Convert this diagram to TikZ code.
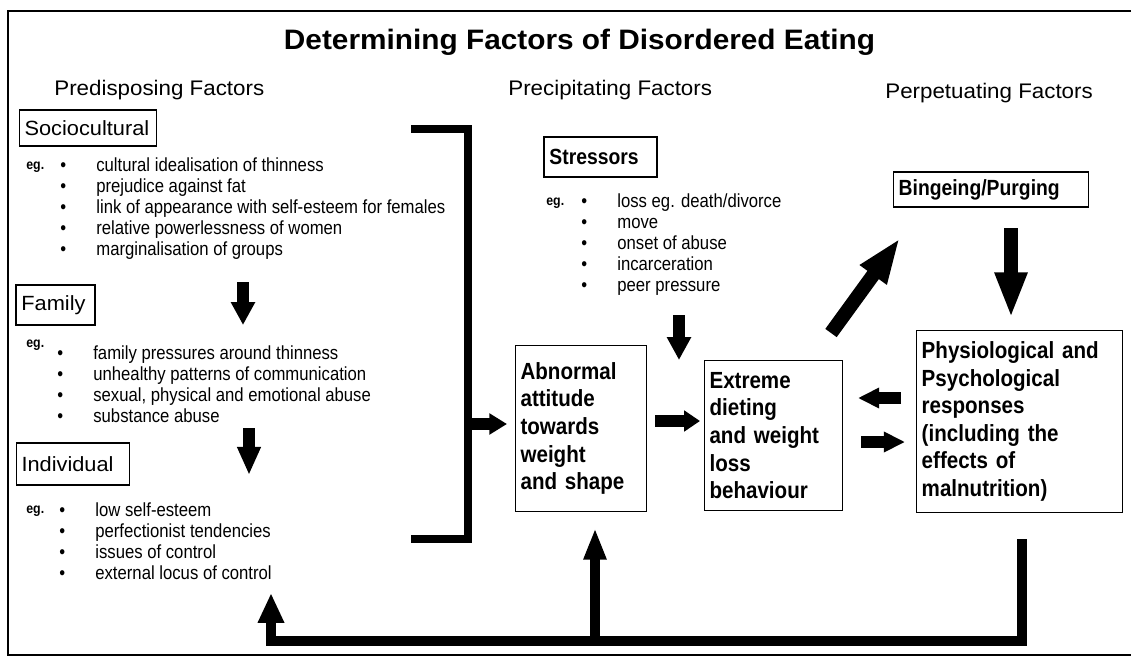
\documentclass[tikz,border=0pt]{standalone}
\usepackage{fontspec}
\setmainfont{Liberation Sans}[FakeStretch=1.06]
\newfontfamily\narrowfont{Liberation Sans}[FakeStretch=0.88]
\newcommand*\listItem[1]{%
	\makebox[20.5pt][l]{\textbullet}#1%
}
\usepackage{tikz}
\usetikzlibrary{positioning}
\usetikzlibrary{arrows.meta}

\begin{document}
\begin{tikzpicture}[
		headline/.style = { font = \bfseries\fontsize{16}{19}\selectfont, inner sep=0pt, anchor=base },
		factor/.style = { font = \fontsize{12}{14}\selectfont, inner sep=0pt, anchor=base west },
		factorBox/.style = { draw, line width=0.8pt, inner sep=3pt, align=left, font = \fontsize{11.7}{14}\selectfont },
		stressBox/.style = { factorBox, font = \narrowfont\bfseries\fontsize{12.5}{15}\selectfont },
		stage/.style = { draw, line width=0.8pt, inner sep=3pt, align=left, font = \narrowfont\bfseries\fontsize{13.3}{15.7}\selectfont },
		entry/.style = { font = \narrowfont\fontsize{10.8}{12}\selectfont, inner sep=0pt, anchor=base west },
		egLabel/.style = { font = \narrowfont\bfseries\fontsize{8}{9}\selectfont, inner sep=0pt, anchor=base west },
		fat/.style = { line width=6.8pt, -{Triangle[length=13pt, width=13pt]} },
		bigFat/.style = { line width=8pt, -{Triangle[length=26pt, width=17pt]} },
		loopLine/.style = { line width=6.2pt },
		]
		\def\oneUnit{0.02cm}
		
		\useasboundingbox (0,0) rectangle (1132*\oneUnit,-659*\oneUnit);
		\draw[line width=0.9pt] (1131*\oneUnit,-11*\oneUnit) -- (8*\oneUnit,-11*\oneUnit) -- (8*\oneUnit,-655*\oneUnit) -- (1131*\oneUnit,-655*\oneUnit);
		
		\node[headline] (TITLE) at (579.5*\oneUnit,-50*\oneUnit) {Determining Factors of Disordered Eating};
		\node[factor] (PREDISP) at (54*\oneUnit,-95*\oneUnit) {Predisposing Factors};
		\node[factor] (PRECIP) at (508*\oneUnit,-95*\oneUnit) {Precipitating Factors};
		\node[factor] (PERPET) at (885*\oneUnit,-98*\oneUnit) {Perpetuating Factors};
		
		\node[factorBox, text width=72.2pt, minimum height=20.4pt] (SOCIO) at (88*\oneUnit,-128*\oneUnit) {Sociocultural};
		\node[egLabel] (SOCIOeg) at (26*\oneUnit,-169*\oneUnit) {eg.};
		\node[entry] (SOCIO1) at (60*\oneUnit,-171*\oneUnit) {\listItem{cultural idealisation of thinness}};
		\node[entry] (SOCIO2) at (60*\oneUnit,-192*\oneUnit) {\listItem{prejudice against fat}};
		\node[entry] (SOCIO3) at (60*\oneUnit,-213*\oneUnit) {\listItem{link of appearance with self-esteem for females}};
		\node[entry] (SOCIO4) at (60*\oneUnit,-234*\oneUnit) {\listItem{relative powerlessness of women}};
		\node[entry] (SOCIO5) at (60*\oneUnit,-255*\oneUnit) {\listItem{marginalisation of groups}};
		
		\node[factorBox, text width=38.8pt, minimum height=22.7pt] (FAMILY) at (55.5*\oneUnit,-305*\oneUnit) {Family};
		\node[egLabel] (FAMILYeg) at (26*\oneUnit,-347*\oneUnit) {eg.};
		\node[entry] (FAMILY1) at (57*\oneUnit,-359*\oneUnit) {\listItem{family pressures around thinness}};
		\node[entry] (FAMILY2) at (57*\oneUnit,-380*\oneUnit) {\listItem{unhealthy patterns of communication}};
		\node[entry] (FAMILY3) at (57*\oneUnit,-401*\oneUnit) {\listItem{sexual, physical and emotional abuse}};
		\node[entry] (FAMILY4) at (57*\oneUnit,-422*\oneUnit) {\listItem{substance abuse}};
		
		\node[factorBox, text width=58.6pt, minimum height=23.8pt] (INDIV) at (73*\oneUnit,-464*\oneUnit) {Individual};
		\node[egLabel] (INDIVeg) at (26*\oneUnit,-513*\oneUnit) {eg.};
		\node[entry] (INDIV1) at (59*\oneUnit,-516*\oneUnit) {\listItem{low self-esteem}};
		\node[entry] (INDIV2) at (59*\oneUnit,-537*\oneUnit) {\listItem{perfectionist tendencies}};
		\node[entry] (INDIV3) at (59*\oneUnit,-558*\oneUnit) {\listItem{issues of control}};
		\node[entry] (INDIV4) at (59*\oneUnit,-579*\oneUnit) {\listItem{external locus of control}};
		
		\node[stressBox, text width=58.1pt, minimum height=22.7pt] (STRESS) at (600.5*\oneUnit,-157*\oneUnit) {Stressors};
		\node[egLabel] (STRESSeg) at (546*\oneUnit,-205*\oneUnit) {eg.};
		\node[entry] (STRESS1) at (581*\oneUnit,-207*\oneUnit) {\listItem{loss eg. death/divorce}};
		\node[entry] (STRESS2) at (581*\oneUnit,-228*\oneUnit) {\listItem{move}};
		\node[entry] (STRESS3) at (581*\oneUnit,-249*\oneUnit) {\listItem{onset of abuse}};
		\node[entry] (STRESS4) at (581*\oneUnit,-270*\oneUnit) {\listItem{incarceration}};
		\node[entry] (STRESS5) at (581*\oneUnit,-291*\oneUnit) {\listItem{peer pressure}};
		
		\node[stressBox, text width=105.1pt, minimum height=19.8pt] (BINGE) at (991*\oneUnit,-189.5*\oneUnit) {Bingeing/Purging};
		
		\node[stage, text width=68.8pt, minimum height=94.7pt] (ABNORMAL) at (581*\oneUnit,-428.5*\oneUnit) {Abnormal\\attitude\\towards\\weight\\and shape};
		\node[stage, text width=72.8pt, minimum height=85.6pt] (EXTREME) at (773.5*\oneUnit,-435.5*\oneUnit) {Extreme\\dieting\\and weight\\loss\\behaviour};
		\node[stage, text width=111.3pt, minimum height=103.7pt] (PHYSIO) at (1019.5*\oneUnit,-421.5*\oneUnit) {Physiological and\\Psychological\\responses\\(including the\\effects of\\malnutrition)};
		
		\coordinate (SOCIOout) at (243*\oneUnit,-282*\oneUnit);
		\coordinate (FAMILYin) at (243*\oneUnit,-325*\oneUnit);
		\coordinate (FAMILYout) at (249*\oneUnit,-428*\oneUnit);
		\coordinate (INDIVin) at (249*\oneUnit,-475*\oneUnit);
		
		\coordinate (BRtop) at (411*\oneUnit,-129*\oneUnit);
		\coordinate (BRtopCorner) at (468*\oneUnit,-129*\oneUnit);
		\coordinate (BRbotCorner) at (468*\oneUnit,-539*\oneUnit);
		\coordinate (BRbot) at (411*\oneUnit,-539*\oneUnit);
		\coordinate (BRmid) at (468*\oneUnit,-424*\oneUnit);
		\coordinate (ABNORMALin) at (507*\oneUnit,-424*\oneUnit);
		
		\coordinate (STRESSout) at (679*\oneUnit,-315*\oneUnit);
		\coordinate (STRESSin) at (679*\oneUnit,-360*\oneUnit);
		\coordinate (ABNORMALout) at (655*\oneUnit,-421*\oneUnit);
		\coordinate (EXTREMEin) at (700*\oneUnit,-421*\oneUnit);
		
		\coordinate (EXTREMEup) at (831*\oneUnit,-333*\oneUnit);
		\coordinate (BINGEin) at (900*\oneUnit,-238*\oneUnit);
		\coordinate (BINGEout) at (1011*\oneUnit,-228*\oneUnit);
		\coordinate (PHYSIOin) at (1011*\oneUnit,-318*\oneUnit);
		
		\coordinate (PHYSIOleft) at (901*\oneUnit,-398*\oneUnit);
		\coordinate (EXTREMEright) at (858*\oneUnit,-398*\oneUnit);
		\coordinate (EXTREMEout) at (861*\oneUnit,-442*\oneUnit);
		\coordinate (PHYSIOback) at (905*\oneUnit,-442*\oneUnit);
		
		\coordinate (LOOPstart) at (1022*\oneUnit,-539*\oneUnit);
		\coordinate (LOOPcorner) at (1022*\oneUnit,-641*\oneUnit);
		\coordinate (LOOPleft) at (271*\oneUnit,-641*\oneUnit);
		\coordinate (LOOPend) at (271*\oneUnit,-593*\oneUnit);
		\coordinate (LOOPbranch) at (595*\oneUnit,-641*\oneUnit);
		\coordinate (ABNORMALback) at (595*\oneUnit,-528*\oneUnit);
		
		\draw[fat] (SOCIOout) -- (FAMILYin);
		\draw[fat, -{Triangle[length=16pt, width=12.5pt]}] (FAMILYout) -- (INDIVin);
		
		\draw[line width=4.5pt] (BRtop) -- (BRtopCorner) -- (BRbotCorner) -- (BRbot);
		\draw[fat, -{Triangle[length=10pt, width=11.5pt]}] (BRmid) -- (ABNORMALin);
		
		\draw[fat] (STRESSout) -- (STRESSin);
		\draw[fat, -{Triangle[length=9pt, width=11.5pt]}] (ABNORMALout) -- (EXTREMEin);
		
		\draw[bigFat] (EXTREMEup) -- (BINGEin);
		\draw[bigFat] (BINGEout) -- (PHYSIOin);
		
		\draw[fat, -{Triangle[length=12pt, width=11pt]}] (PHYSIOleft) -- (EXTREMEright);
		\draw[fat, -{Triangle[length=12pt, width=11pt]}] (EXTREMEout) -- (PHYSIOback);
		
		\draw[loopLine, -{Triangle[length=17pt, width=14pt]}] (LOOPstart) -- (LOOPcorner) -- (LOOPleft) -- (LOOPend);
		\draw[line width=5.7pt, -{Triangle[length=18pt, width=12pt]}] (LOOPbranch) -- (ABNORMALback);
		
\end{tikzpicture}
\end{document}
